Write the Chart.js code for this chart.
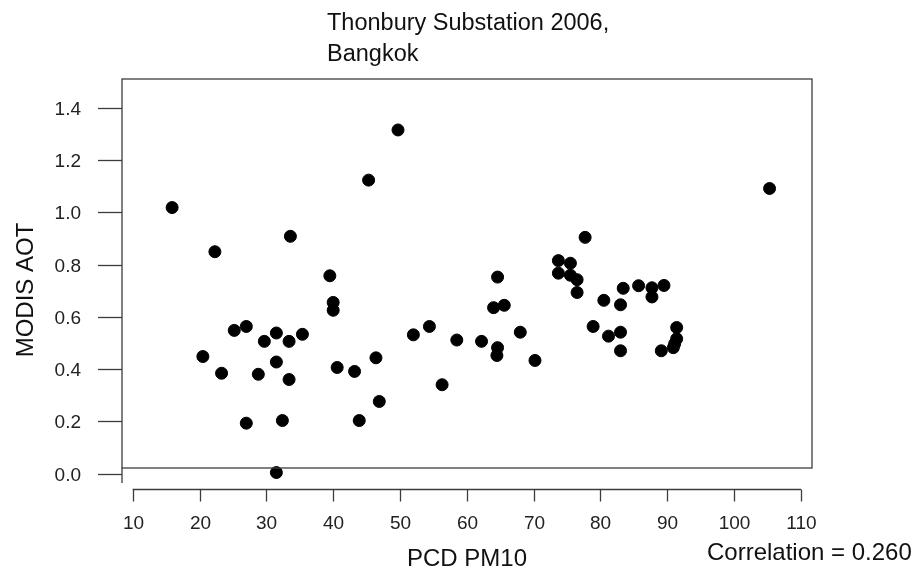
<!DOCTYPE html>
<html lang="en">
  <head>
    <meta charset="utf-8" />
    <title>Thonbury Substation 2006, Bangkok</title>
    <style>
      html, body { margin: 0; padding: 0; background: #fff; }
    </style>
  </head>
  <body>
    <div>
      <canvas id="canvas" width="922" height="575"></canvas>
    </div>

    <script src="https://cdn.jsdelivr.net/npm/chart.js"></script>

    <script>
      // PCD PM10 (x) vs MODIS AOT (y)
      const pm10 = [
        15.9, 22.3, 20.5, 23.3, 25.2, 27.0, 27.0, 28.8, 29.7, 31.5,
        31.5, 31.5, 32.4, 33.4, 33.4, 33.6, 35.4, 39.5, 40.0, 40.0,
        40.6, 43.2, 43.9, 45.3, 46.4, 46.9, 49.7, 52.0, 54.4, 56.3,
        58.5, 62.2, 64.0, 65.6, 64.6, 64.6, 64.5, 68.0, 70.2, 73.7,
        73.7, 75.5, 75.5, 76.5, 76.5, 77.7, 78.9, 80.5, 81.2, 83.0,
        83.4, 83.0, 83.0, 85.7, 87.7, 87.7, 89.5, 89.1, 91.4, 91.4,
        91.1, 90.9, 105.3
      ];
      const aot = [
        1.018, 0.849, 0.448, 0.384, 0.548, 0.563, 0.193, 0.380, 0.506, 0.538,
        0.427, 0.004, 0.203, 0.506, 0.360, 0.908, 0.533, 0.757, 0.655, 0.625,
        0.406, 0.391, 0.203, 1.123, 0.443, 0.276, 1.315, 0.531, 0.563, 0.340,
        0.511, 0.506, 0.635, 0.644, 0.752, 0.482, 0.452, 0.541, 0.433, 0.815,
        0.767, 0.805, 0.759, 0.742, 0.693, 0.904, 0.563, 0.663, 0.526, 0.646,
        0.709, 0.541, 0.470, 0.719, 0.711, 0.676, 0.720, 0.470, 0.559, 0.516,
        0.497, 0.482, 1.091
      ];
      const xTicks = [10, 20, 30, 40, 50, 60, 70, 80, 90, 100, 110];
      const yTicks = [0.0, 0.2, 0.4, 0.6, 0.8, 1.0, 1.2, 1.4];
      const titleLines = ["Thonbury Substation 2006,", "Bangkok"];
      const xLabel = "PCD PM10";
      const yLabel = "MODIS AOT";
      const note = "Correlation = 0.260";

      const FONT = "'Liberation Sans', Arial, sans-serif";
      const INK = "#3c3c3c";

      // R-style frame, detached axes and texts
      const rDecor = {
        id: "rDecor",
        afterDraw(chart) {
          const c = chart.ctx;
          const a = chart.chartArea;
          const xs = chart.scales.x;
          const ys = chart.scales.y;
          c.save();
          c.strokeStyle = INK;
          c.lineWidth = 1.3;

          // plot box
          c.strokeRect(a.left, a.top, a.right - a.left, a.bottom - a.top);
          c.beginPath();
          c.moveTo(a.left, a.bottom);
          c.lineTo(a.left, a.bottom + 15);
          c.stroke();

          // y axis ticks + labels
          c.fillStyle = "#222";
          c.font = "19px " + FONT;
          c.textAlign = "right";
          c.textBaseline = "middle";
          yTicks.forEach(function (v) {
            const py = Math.round(ys.getPixelForValue(v)) + 0.5;
            c.beginPath();
            c.moveTo(a.left - 24, py);
            c.lineTo(a.left, py);
            c.stroke();
            c.fillText(v.toFixed(1), a.left - 41, py + 1);
          });

          // x axis (offset below the box)
          const axY = a.bottom + 21.5;
          const x0 = xs.getPixelForValue(xTicks[0]);
          const x1 = xs.getPixelForValue(xTicks[xTicks.length - 1]);
          c.beginPath();
          c.moveTo(x0, axY);
          c.lineTo(x1, axY);
          c.stroke();
          c.textAlign = "center";
          c.textBaseline = "alphabetic";
          xTicks.forEach(function (v) {
            const px = Math.round(xs.getPixelForValue(v)) + 0.5;
            c.beginPath();
            c.moveTo(px, axY);
            c.lineTo(px, axY + 12);
            c.stroke();
            c.fillText(String(v), px, axY + 39);
          });

          // axis titles
          c.fillStyle = "#111";
          c.font = "24px " + FONT;
          c.fillText(xLabel, (a.left + a.right) / 2, 566);
          c.save();
          c.translate(33, 290);
          c.rotate(-Math.PI / 2);
          c.fillText(yLabel, 0, 0);
          c.restore();

          // main title, left aligned as in the original
          c.textAlign = "left";
          c.font = "23.5px " + FONT;
          c.fillText(titleLines[0], 327, 29.5);
          c.fillText(titleLines[1], 327, 61);

          // correlation note
          c.font = "24px " + FONT;
          c.fillText(note, 707, 560);
          c.restore();
        },
      };

      const ctx = document.getElementById("canvas");

      new Chart(ctx, {
        type: "scatter",
        data: {
          datasets: [
            {
              label: yLabel,
              data: pm10.map(function (x, i) {
                return { x: x, y: aot[i] };
              }),
              backgroundColor: "#000",
              borderColor: "#000",
              pointRadius: 6,
              pointHoverRadius: 6,
              clip: false,
            },
          ],
        },
        options: {
          responsive: false,
          animation: false,
          events: [],
          layout: {
            padding: { left: 122, top: 79, right: 110, bottom: 107 },
          },
          plugins: {
            legend: { display: false },
            title: { display: false },
            tooltip: { enabled: false },
          },
          scales: {
            x: { type: "linear", display: false, min: 8.4, max: 111.65 },
            y: { type: "linear", display: false, min: 0.0214, max: 1.51 },
          },
        },
        plugins: [rDecor],
      });
    </script>
  </body>
</html>
